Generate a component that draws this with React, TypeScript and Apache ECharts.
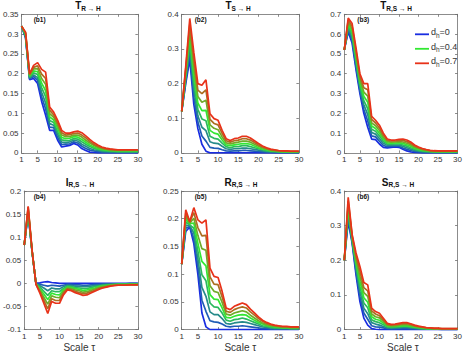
import React, { useEffect, useRef } from "react";
import * as echarts from "echarts";

// Scale tau categories and tick labels
const TAU = ["1","2","3","4","5","6","7","8","9","10","11","12","13","14","15","16","17","18","19","20","21","22","23","24","25","26","27","28","29","30"];
const X_TICKS = ["1", "5", "10", "15", "20", "25", "30"];
// d_h levels drawn (0 .. 0.7)
const D_LEVELS = [0, 0.1, 0.2, 0.3, 0.4, 0.5, 0.6, 0.7];
const LEGEND_LEVELS = [0, 0.4, 0.7];

// (b1) T_{R->H}
const b1d0 = [0.32,0.29,0.185,0.188,0.175,0.13,0.095,0.057,0.057,0.032,0.015,0.017,0.019,0.024,0.02,0.011,0.006,0.002,0.001,0,0,0,0,0,0,0,0,0,0,0];
const b1d1 = [0.32,0.292,0.187,0.193,0.183,0.142,0.111,0.065,0.064,0.039,0.021,0.022,0.023,0.028,0.025,0.017,0.011,0.007,0.005,0.003,0.002,0.002,0.001,0.001,0.001,0.001,0.001,0.001,0.001,0.001];
const b1d2 = [0.32,0.294,0.189,0.197,0.19,0.153,0.126,0.074,0.07,0.046,0.027,0.026,0.028,0.032,0.03,0.022,0.017,0.011,0.008,0.006,0.004,0.003,0.003,0.003,0.002,0.002,0.002,0.002,0.002,0.002];
const b1d3 = [0.32,0.296,0.191,0.202,0.198,0.165,0.142,0.082,0.077,0.053,0.033,0.031,0.032,0.036,0.035,0.028,0.022,0.016,0.012,0.009,0.006,0.005,0.004,0.004,0.003,0.003,0.003,0.003,0.003,0.003];
const b1d4 = [0.32,0.299,0.194,0.207,0.205,0.176,0.157,0.091,0.083,0.061,0.039,0.036,0.037,0.041,0.04,0.034,0.027,0.02,0.015,0.011,0.009,0.007,0.006,0.005,0.005,0.005,0.005,0.005,0.005,0.005];
const b1d5 = [0.32,0.301,0.196,0.212,0.213,0.188,0.173,0.099,0.09,0.068,0.045,0.041,0.041,0.045,0.045,0.04,0.032,0.025,0.019,0.014,0.011,0.009,0.007,0.006,0.006,0.006,0.006,0.006,0.006,0.006];
const b1d6 = [0.32,0.303,0.198,0.216,0.22,0.199,0.188,0.108,0.096,0.075,0.051,0.045,0.046,0.049,0.05,0.045,0.038,0.029,0.022,0.017,0.013,0.01,0.009,0.008,0.007,0.007,0.007,0.007,0.007,0.007];
const b1d7 = [0.32,0.305,0.2,0.221,0.228,0.211,0.204,0.116,0.103,0.082,0.057,0.05,0.05,0.053,0.055,0.051,0.043,0.034,0.026,0.02,0.015,0.012,0.01,0.009,0.008,0.008,0.008,0.008,0.008,0.008];

// (b2) T_{S->H}
const b2d0 = [0.12,0.2,0.27,0.14,0.07,0.025,0.005,0,0,0,0,0,0,0,0,0,0,0,0,0,0,0,0,0,0,0,0,0,0,0];
const b2d1 = [0.12,0.207,0.287,0.161,0.089,0.049,0.034,0.016,0.014,0.013,0.009,0.006,0.005,0.006,0.006,0.007,0.007,0.006,0.005,0.004,0.003,0.002,0.002,0.001,0.001,0.001,0.001,0.001,0.001,0.001];
const b2d2 = [0.12,0.214,0.304,0.183,0.107,0.074,0.064,0.032,0.028,0.027,0.019,0.012,0.01,0.012,0.012,0.014,0.014,0.012,0.01,0.008,0.006,0.004,0.003,0.003,0.002,0.002,0.002,0.001,0.001,0.001];
const b2d3 = [0.12,0.221,0.321,0.204,0.126,0.098,0.093,0.048,0.042,0.04,0.028,0.018,0.015,0.018,0.018,0.021,0.021,0.018,0.015,0.012,0.009,0.006,0.005,0.004,0.003,0.003,0.003,0.002,0.002,0.002];
const b2d4 = [0.12,0.229,0.337,0.226,0.144,0.122,0.123,0.065,0.057,0.054,0.037,0.023,0.021,0.023,0.025,0.027,0.027,0.025,0.02,0.015,0.011,0.009,0.006,0.005,0.004,0.003,0.003,0.003,0.003,0.003];
const b2d5 = [0.12,0.236,0.354,0.247,0.163,0.146,0.152,0.081,0.071,0.067,0.046,0.029,0.026,0.029,0.031,0.034,0.034,0.031,0.025,0.019,0.014,0.011,0.008,0.006,0.005,0.004,0.004,0.004,0.004,0.004];
const b2d6 = [0.12,0.243,0.371,0.269,0.181,0.171,0.182,0.097,0.085,0.081,0.056,0.035,0.031,0.035,0.037,0.041,0.041,0.037,0.03,0.023,0.017,0.013,0.009,0.008,0.006,0.005,0.005,0.004,0.004,0.004];
const b2d7 = [0.12,0.25,0.388,0.29,0.2,0.195,0.211,0.113,0.099,0.094,0.065,0.041,0.036,0.041,0.043,0.048,0.048,0.043,0.035,0.027,0.02,0.015,0.011,0.009,0.007,0.006,0.006,0.005,0.005,0.005];

// (b3) T_{R,S->H}
const b3d0 = [0.52,0.611,0.555,0.42,0.3,0.2,0.13,0.07,0.067,0.045,0.028,0.025,0.028,0.03,0.028,0.018,0.01,0.005,0.002,0.001,0,0,0,0,0,0,0,0,0,0];
const b3d1 = [0.52,0.621,0.569,0.436,0.314,0.221,0.161,0.086,0.081,0.059,0.038,0.031,0.033,0.035,0.034,0.025,0.018,0.012,0.007,0.005,0.003,0.002,0.002,0.002,0.001,0.001,0.001,0.001,0.001,0.001];
const b3d2 = [0.52,0.631,0.583,0.451,0.329,0.243,0.193,0.103,0.095,0.072,0.049,0.038,0.039,0.04,0.039,0.033,0.026,0.019,0.013,0.009,0.006,0.005,0.004,0.003,0.003,0.003,0.003,0.003,0.003,0.003];
const b3d3 = [0.52,0.641,0.597,0.467,0.343,0.264,0.224,0.119,0.109,0.086,0.059,0.044,0.044,0.045,0.045,0.04,0.034,0.026,0.018,0.013,0.009,0.007,0.006,0.005,0.004,0.004,0.004,0.004,0.004,0.004];
const b3d4 = [0.52,0.651,0.611,0.483,0.357,0.286,0.256,0.136,0.123,0.099,0.069,0.051,0.049,0.05,0.051,0.048,0.041,0.034,0.024,0.018,0.013,0.01,0.007,0.006,0.006,0.006,0.006,0.006,0.006,0.006];
const b3d5 = [0.52,0.661,0.625,0.499,0.371,0.307,0.287,0.152,0.137,0.113,0.079,0.057,0.054,0.055,0.057,0.055,0.049,0.041,0.029,0.022,0.016,0.012,0.009,0.008,0.007,0.007,0.007,0.007,0.007,0.007];
const b3d6 = [0.52,0.671,0.639,0.514,0.386,0.329,0.319,0.169,0.151,0.126,0.09,0.064,0.06,0.06,0.062,0.063,0.057,0.048,0.035,0.026,0.019,0.015,0.011,0.009,0.009,0.009,0.009,0.009,0.009,0.009];
const b3d7 = [0.52,0.681,0.653,0.53,0.4,0.35,0.35,0.185,0.165,0.14,0.1,0.07,0.065,0.065,0.068,0.07,0.065,0.055,0.04,0.03,0.022,0.017,0.013,0.011,0.01,0.01,0.01,0.01,0.01,0.01];

// (b4) I_{R,S->H}
const b4d0 = [0.083,0.15,0.068,0,0.001,0.003,0.004,0.002,0.001,0,0,0,0,0,0,0,0,0,0,0,0,0,0,0,0,0,0,0,0,0];
const b4d1 = [0.083,0.152,0.069,0,-0.002,-0.004,-0.006,-0.004,-0.005,-0.006,-0.004,-0.002,-0.002,-0.003,-0.003,-0.004,-0.004,-0.003,-0.002,-0.002,-0.001,-0.001,-0.001,-0.001,-0.001,-0.001,-0.001,0,0,0];
const b4d2 = [0.083,0.155,0.069,-0.001,-0.005,-0.01,-0.016,-0.01,-0.012,-0.012,-0.007,-0.004,-0.005,-0.006,-0.007,-0.007,-0.007,-0.006,-0.005,-0.004,-0.003,-0.002,-0.002,-0.001,-0.001,-0.001,-0.001,-0.001,-0.001,-0.001];
const b4d3 = [0.083,0.157,0.07,-0.001,-0.008,-0.017,-0.026,-0.016,-0.018,-0.018,-0.011,-0.006,-0.007,-0.009,-0.01,-0.011,-0.011,-0.009,-0.007,-0.006,-0.004,-0.003,-0.003,-0.002,-0.002,-0.002,-0.002,-0.001,-0.001,-0.001];
const b4d4 = [0.083,0.16,0.07,-0.001,-0.012,-0.023,-0.035,-0.021,-0.024,-0.025,-0.014,-0.008,-0.009,-0.011,-0.013,-0.015,-0.014,-0.012,-0.01,-0.007,-0.006,-0.005,-0.003,-0.003,-0.002,-0.002,-0.002,-0.002,-0.002,-0.002];
const b4d5 = [0.083,0.162,0.071,-0.001,-0.015,-0.03,-0.045,-0.027,-0.03,-0.031,-0.018,-0.01,-0.011,-0.014,-0.016,-0.019,-0.018,-0.015,-0.012,-0.009,-0.007,-0.006,-0.004,-0.004,-0.003,-0.003,-0.003,-0.002,-0.002,-0.002];
const b4d6 = [0.083,0.165,0.071,-0.002,-0.018,-0.036,-0.055,-0.033,-0.037,-0.037,-0.021,-0.012,-0.014,-0.017,-0.02,-0.022,-0.021,-0.018,-0.015,-0.011,-0.009,-0.007,-0.005,-0.004,-0.003,-0.003,-0.003,-0.003,-0.003,-0.003];
const b4d7 = [0.083,0.167,0.072,-0.002,-0.021,-0.043,-0.065,-0.039,-0.043,-0.043,-0.025,-0.014,-0.016,-0.02,-0.023,-0.026,-0.025,-0.021,-0.017,-0.013,-0.01,-0.008,-0.006,-0.005,-0.004,-0.004,-0.004,-0.003,-0.003,-0.003];

// (b5) R_{R,S->H}
const b5d0 = [0.118,0.177,0.185,0.155,0.1,0.03,0.005,0,0,0,0,0,0,0,0,0,0,0,0,0,0,0,0,0,0,0,0,0,0,0];
const b5d1 = [0.118,0.183,0.186,0.164,0.114,0.053,0.033,0.016,0.014,0.013,0.01,0.006,0.005,0.006,0.006,0.007,0.006,0.005,0.004,0.003,0.002,0.002,0.001,0.001,0.001,0.001,0.001,0.001,0.001,0.001];
const b5d2 = [0.118,0.188,0.188,0.174,0.128,0.076,0.06,0.032,0.027,0.027,0.02,0.011,0.01,0.012,0.013,0.014,0.013,0.011,0.009,0.007,0.005,0.004,0.003,0.002,0.002,0.002,0.002,0.001,0.001,0.001];
const b5d3 = [0.118,0.194,0.189,0.183,0.142,0.099,0.088,0.048,0.041,0.04,0.03,0.017,0.015,0.018,0.019,0.021,0.019,0.016,0.013,0.01,0.007,0.006,0.004,0.003,0.003,0.003,0.003,0.002,0.002,0.002];
const b5d4 = [0.118,0.199,0.191,0.192,0.156,0.123,0.115,0.063,0.055,0.054,0.039,0.022,0.021,0.024,0.026,0.027,0.026,0.021,0.017,0.013,0.01,0.007,0.006,0.005,0.004,0.003,0.003,0.003,0.003,0.003];
const b5d5 = [0.118,0.205,0.192,0.201,0.17,0.146,0.143,0.079,0.069,0.067,0.049,0.028,0.026,0.03,0.032,0.034,0.032,0.026,0.021,0.016,0.012,0.009,0.007,0.006,0.005,0.004,0.004,0.004,0.004,0.004];
const b5d6 = [0.118,0.21,0.194,0.211,0.184,0.169,0.17,0.095,0.082,0.081,0.059,0.033,0.031,0.036,0.039,0.041,0.039,0.032,0.026,0.02,0.015,0.011,0.009,0.007,0.006,0.005,0.005,0.004,0.004,0.004];
const b5d7 = [0.118,0.216,0.195,0.22,0.198,0.192,0.198,0.111,0.096,0.094,0.069,0.039,0.036,0.042,0.045,0.048,0.045,0.037,0.03,0.023,0.017,0.013,0.01,0.008,0.007,0.006,0.006,0.005,0.005,0.005];

// (b6) S_{R,S->H}
const b6d0 = [0.2,0.312,0.25,0.158,0.081,0.033,0.013,0.003,0.001,0,0,0,0,0,0,0,0,0,0,0,0,0,0,0,0,0,0,0,0,0];
const b6d1 = [0.2,0.322,0.254,0.167,0.095,0.048,0.03,0.011,0.008,0.007,0.005,0.003,0.002,0.002,0.003,0.003,0.003,0.002,0.002,0.001,0.001,0.001,0.001,0.001,0.001,0,0,0,0,0];
const b6d2 = [0.2,0.332,0.257,0.176,0.11,0.062,0.046,0.02,0.016,0.013,0.009,0.005,0.004,0.005,0.005,0.006,0.006,0.005,0.004,0.003,0.002,0.002,0.001,0.001,0.001,0.001,0.001,0.001,0.001,0.001];
const b6d3 = [0.2,0.342,0.261,0.185,0.124,0.077,0.063,0.028,0.023,0.02,0.014,0.008,0.006,0.007,0.008,0.009,0.009,0.007,0.006,0.004,0.003,0.003,0.002,0.002,0.002,0.001,0.001,0.001,0.001,0.001];
const b6d4 = [0.2,0.352,0.264,0.194,0.139,0.092,0.079,0.037,0.03,0.027,0.019,0.01,0.009,0.009,0.01,0.011,0.011,0.01,0.007,0.006,0.005,0.003,0.003,0.002,0.002,0.002,0.002,0.002,0.002,0.002];
const b6d5 = [0.2,0.362,0.268,0.203,0.153,0.107,0.096,0.045,0.037,0.034,0.024,0.013,0.011,0.011,0.013,0.014,0.014,0.012,0.009,0.007,0.006,0.004,0.004,0.003,0.003,0.002,0.002,0.002,0.002,0.002];
const b6d6 = [0.2,0.372,0.271,0.212,0.168,0.121,0.112,0.054,0.045,0.04,0.028,0.015,0.013,0.014,0.015,0.017,0.017,0.015,0.011,0.009,0.007,0.005,0.004,0.003,0.003,0.003,0.003,0.003,0.003,0.003];
const b6d7 = [0.2,0.382,0.275,0.221,0.182,0.136,0.129,0.062,0.052,0.047,0.033,0.018,0.015,0.016,0.018,0.02,0.02,0.017,0.013,0.01,0.008,0.006,0.005,0.004,0.004,0.003,0.003,0.003,0.003,0.003];

// Panel definitions (text + axis ranges)
const PANELS = [
  { tag: "(b1)", main: "T", sub: "R → H", min: 0, max: 0.35, step: 0.05, lines: [b1d0, b1d1, b1d2, b1d3, b1d4, b1d5, b1d6, b1d7] },
  { tag: "(b2)", main: "T", sub: "S → H", min: 0, max: 0.4, step: 0.1, lines: [b2d0, b2d1, b2d2, b2d3, b2d4, b2d5, b2d6, b2d7] },
  { tag: "(b3)", main: "T", sub: "R,S → H", min: 0, max: 0.7, step: 0.1, lines: [b3d0, b3d1, b3d2, b3d3, b3d4, b3d5, b3d6, b3d7] },
  { tag: "(b4)", main: "I", sub: "R,S → H", min: -0.1, max: 0.2, step: 0.05, lines: [b4d0, b4d1, b4d2, b4d3, b4d4, b4d5, b4d6, b4d7] },
  { tag: "(b5)", main: "R", sub: "R,S → H", min: 0, max: 0.25, step: 0.05, lines: [b5d0, b5d1, b5d2, b5d3, b5d4, b5d5, b5d6, b5d7] },
  { tag: "(b6)", main: "S", sub: "R,S → H", min: 0, max: 0.4, step: 0.1, lines: [b6d0, b6d1, b6d2, b6d3, b6d4, b6d5, b6d6, b6d7] },
];
const X_LABEL = "Scale τ";

// Layout (pixels)
const COL_LEFT = [20.7, 181.7, 344.3];
const ROW_TOP = [14.3, 191];
const PLOT_W = 117.2;
const PLOT_H = 138.6;
const TITLE_CX = [88, 238, 396, 80, 241, 398];
const TITLE_Y = [0.5, 177];

const FONT = "'Liberation Sans', Arial, Helvetica, sans-serif";
const AXIS_COLOR = "#6f6f6f";
const TEXT_COLOR = "#333333";

const BLUE = [25, 45, 225];
const GREEN = [50, 232, 50];
const RED = [232, 50, 25];

function mix(a: number[], b: number[], t: number) {
  const c = a.map((v, i) => Math.round(v + (b[i] - v) * t));
  return `rgb(${c[0]},${c[1]},${c[2]})`;
}
function levelColor(d: number) {
  if (d <= 0.4) return mix(BLUE, GREEN, d / 0.4);
  return mix(GREEN, RED, (d - 0.4) / 0.3);
}

function fmt(v: number) {
  return String(Math.round(v * 1000) / 1000);
}

function buildOption() {
  const grid: any[] = [];
  const xAxis: any[] = [];
  const yAxis: any[] = [];
  const series: any[] = [];
  const graphic: any[] = [];
  const isTick = (_i: number, v: string) => X_TICKS.indexOf(String(v)) >= 0;

  PANELS.forEach((p, i) => {
    const row = Math.floor(i / 3);
    const col = i % 3;
    const left = COL_LEFT[col];
    const top = ROW_TOP[row];
    grid.push({ left, top, width: PLOT_W, height: PLOT_H, containLabel: false });
    const lineStyle = { color: AXIS_COLOR, width: 0.8 };
    xAxis.push({
      type: "category", gridIndex: i, data: TAU, boundaryGap: false, position: "bottom",
      axisLine: { show: true, onZero: false, lineStyle },
      axisTick: { show: true, inside: true, length: 2.5, interval: isTick, lineStyle },
      axisLabel: { show: true, interval: isTick, fontSize: 8, fontFamily: FONT, color: TEXT_COLOR, margin: 3 },
      splitLine: { show: false },
    });
    xAxis.push({
      type: "category", gridIndex: i, data: TAU, boundaryGap: false, position: "top",
      axisLine: { show: true, onZero: false, lineStyle },
      axisTick: { show: true, inside: true, length: 2.5, interval: isTick, lineStyle },
      axisLabel: { show: false },
      splitLine: { show: false },
    });
    yAxis.push({
      type: "value", gridIndex: i, min: p.min, max: p.max, interval: p.step, position: "left",
      axisLine: { show: true, onZero: false, lineStyle },
      axisTick: { show: true, inside: true, length: 2.5, lineStyle },
      axisLabel: { show: true, fontSize: 8, fontFamily: FONT, color: TEXT_COLOR, margin: 3, formatter: fmt },
      splitLine: { show: false },
    });
    yAxis.push({
      type: "value", gridIndex: i, min: p.min, max: p.max, interval: p.step, position: "right",
      axisLine: { show: true, onZero: false, lineStyle },
      axisTick: { show: true, inside: true, length: 2.5, lineStyle },
      axisLabel: { show: false },
      splitLine: { show: false },
    });
    p.lines.forEach((arr, k) => {
      const color = levelColor(D_LEVELS[k]);
      series.push({
        type: "line", name: `${p.tag} d=${D_LEVELS[k]}`, xAxisIndex: 2 * i, yAxisIndex: 2 * i,
        data: arr, showSymbol: false, symbol: "none", silent: true,
        lineStyle: { width: 1.7, color }, itemStyle: { color },
      });
    });
    // title
    graphic.push({
      type: "text", x: TITLE_CX[i], y: TITLE_Y[row],
      style: {
        text: `{m|${p.main}}{s|${p.sub}}`,
        align: "center", verticalAlign: "top",
        rich: {
          m: { fontSize: 10, fontWeight: "bold", fontFamily: FONT, fill: "#111", lineHeight: 11, verticalAlign: "top" },
          s: { fontSize: 6.5, fontWeight: "bold", fontFamily: FONT, fill: "#111", lineHeight: 8, verticalAlign: "bottom" },
        },
      },
    });
    // panel tag
    graphic.push({
      type: "text", x: left + 13, y: top + 5,
      style: { text: p.tag, fontSize: 6.5, fontWeight: "bold", fontFamily: FONT, fill: "#111", align: "left", verticalAlign: "middle" },
    });
    if (row === 1) {
      graphic.push({
        type: "text", x: left + PLOT_W / 2, y: 347,
        style: { text: X_LABEL, fontSize: 10, fontFamily: FONT, fill: TEXT_COLOR, align: "center", verticalAlign: "middle" },
      });
    }
  });

  // legend in panel b3
  const LEG_Y = [34.3, 48.8, 63.3];
  LEGEND_LEVELS.forEach((d, j) => {
    const color = levelColor(d);
    graphic.push({
      type: "line", shape: { x1: 415, y1: LEG_Y[j], x2: 429, y2: LEG_Y[j] },
      style: { stroke: color, lineWidth: 1.8 },
    });
    graphic.push({
      type: "text", x: 431, y: LEG_Y[j] - 1,
      style: {
        text: `{a|d}{b|h}{a|=${d}}`,
        align: "left", verticalAlign: "middle",
        rich: {
          a: { fontSize: 9, fontFamily: FONT, fill: TEXT_COLOR, lineHeight: 11, verticalAlign: "top" },
          b: { fontSize: 6.5, fontFamily: FONT, fill: TEXT_COLOR, lineHeight: 8, verticalAlign: "bottom" },
        },
      },
    });
  });

  return { animation: false, backgroundColor: "#ffffff", grid, xAxis, yAxis, series, graphic };
}

export default function App() {
  const ref = useRef<HTMLDivElement>(null);
  useEffect(() => {
    if (!ref.current) return;
    const chart = echarts.init(ref.current, undefined, { renderer: "svg" });
    chart.setOption(buildOption() as any);
    return () => chart.dispose();
  }, []);
  return <div ref={ref} style={{ position: "absolute", left: 0, top: 0, width: 465, height: 352 }} />;
}
